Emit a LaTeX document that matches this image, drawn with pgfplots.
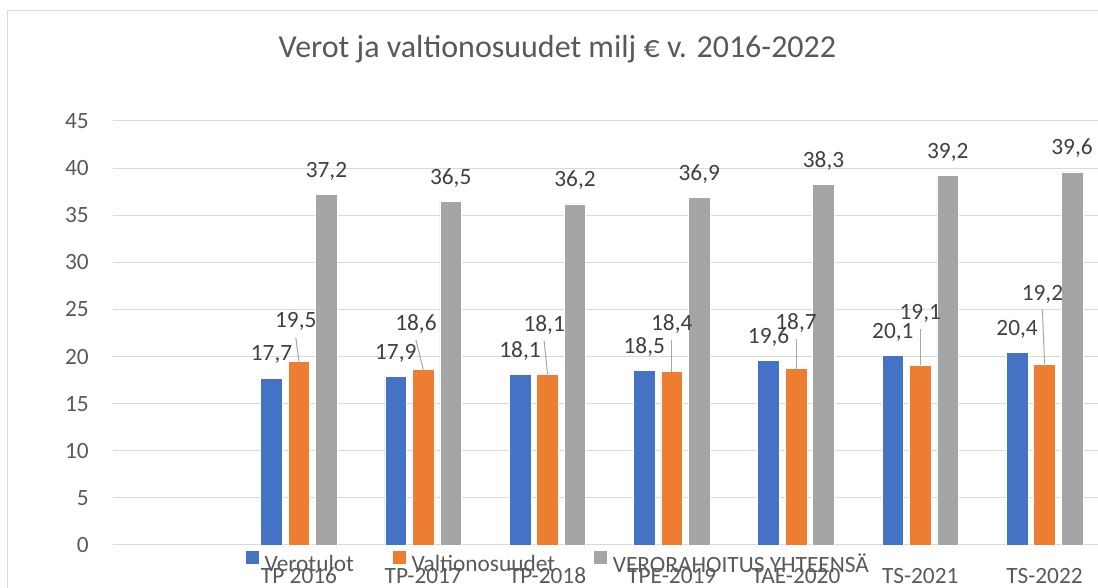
\documentclass[border=0pt]{standalone}
\usepackage{fontspec}
\setmainfont{Carlito}
\usepackage{pgfplots}
\pgfplotsset{compat=1.18}
\usepackage{pgfplotstable}
\definecolor{cBlue}{HTML}{4472C4}
\definecolor{cOrange}{HTML}{ED7D31}
\definecolor{cGray}{HTML}{A5A5A5}
\definecolor{cGrid}{HTML}{D9D9D9}
\definecolor{cText}{HTML}{595959}
\definecolor{cLabel}{HTML}{404040}
\definecolor{cLeader}{HTML}{A6A6A6}

% categories at 1..7 (0 is an empty category)
\pgfplotstableread{
x vero valt total
1 17.7 19.5 37.2
2 17.9 18.6 36.5
3 18.1 18.1 36.2
4 18.5 18.4 36.9
5 19.6 18.7 38.3
6 20.1 19.1 39.2
7 20.4 19.2 39.6
}\data

% orange labels: leader line top (x,y) and vector down to the bar top (u,v)
\pgfplotstableread{
x y u v label
0.974 22.04 0.026 -2.54 19,5
1.941 21.76 0.059 -3.16 18,6
2.973 21.68 0.027 -3.58 18,1
4 21.76 0 -3.36 18,4
5 21.86 0 -3.16 18,7
6 22.93 0 -3.83 19,1
6.983 24.94 0.017 -5.74 19,2
}\leaders

\newcommand{\smallfont}{\fontsize{17.5}{21}\selectfont}
\pgfplotsset{
  sq/.style={legend image code/.code={\fill[##1] (0pt,-0.4pt) rectangle (10.5pt,10.1pt);}},
  barlabel/.style={
    forget plot, draw=none, mark=none,
    nodes near coords={\pgfmathprintnumber[fixed,fixed zerofill,precision=1,use comma]{\pgfplotspointmeta}},
    every node near coord/.append style={anchor=center, xshift=#1, yshift=17.5pt, font=\smallfont, text=cLabel, inner sep=0pt},
  },
}

\begin{document}
\begin{tikzpicture}
\useasboundingbox (0,0) rectangle (823.5pt,441pt);
\draw[cGrid, line width=0.75pt] (5.25pt,-2pt) -- (5.25pt,432.75pt) -- (826pt,432.75pt);
\node[anchor=base, text=cText, font=\fontsize{24}{29}\selectfont, inner sep=0pt] at (418.1pt,397.5pt) {Verot ja valtionosuudet milj € v. 2016-2022};
\begin{axis}[
  at={(84.45pt,32.25pt)}, anchor=south west,
  scale only axis, width=739.05pt, height=318pt,
  xmin=-0.5, xmax=7.43, ymin=0, ymax=45,
  xtick={1,...,7},
  xticklabels={TP 2016,TP-2017,TP-2018,TPE-2019,TAE-2020,TS-2021,TS-2022},
  ytick={0,5,...,45},
  ymajorgrids, grid style={cGrid, line width=0.75pt},
  axis line style={draw=none},
  tick style={draw=none},
  major tick length=0pt,
  tick label style={font=\smallfont, text=cText},
  xticklabel style={anchor=base, inner sep=0pt, yshift=-28.5pt},
  yticklabel style={anchor=east, inner sep=0pt, xshift=-17.7pt},
  /pgf/number format/assume math mode=true,
  clip=false,
  legend columns=-1,
  legend style={at={(0.1344,-0.0413)}, anchor=west, draw=none, fill=none,
    inner sep=0pt, outer sep=0pt, font=\smallfont, text=cText,
    nodes={inner sep=0pt},
    /tikz/every odd column/.append style={column sep=3.75pt},
    /tikz/every even column/.append style={column sep=28.5pt}},
]
\addplot[ybar, bar width=16.2pt, bar shift=-20.6pt, fill=cBlue, draw=white, line width=0.5pt, sq]
  table[x=x, y=vero] {\data};
\addlegendentry{Verotulot}
\addplot[ybar, bar width=16.2pt, bar shift=0pt, fill=cOrange, draw=white, line width=0.5pt, sq]
  table[x=x, y=valt] {\data};
\addlegendentry{Valtionosuudet}
\addplot[ybar, bar width=16.2pt, bar shift=20.6pt, fill=cGray, draw=white, line width=0.5pt, sq]
  table[x=x, y=total] {\data};
\addlegendentry{VERORAHOITUS YHTEENSÄ}
% data labels
\addplot[barlabel=-20.6pt] table[x=x, y=vero] {\data};
\addplot[barlabel=20.6pt] table[x=x, y=total] {\data};
\addplot[forget plot, quiver={u=\thisrow{u}, v=\thisrow{v}}, -, draw=cLeader, line width=0.75pt,
  point meta=explicit symbolic,
  nodes near coords,
  every node near coord/.append style={anchor=center, yshift=11.8pt, font=\smallfont, text=cLabel, inner sep=0pt}]
  table[x=x, y=y, meta=label] {\leaders};
\end{axis}
\end{tikzpicture}
\end{document}
